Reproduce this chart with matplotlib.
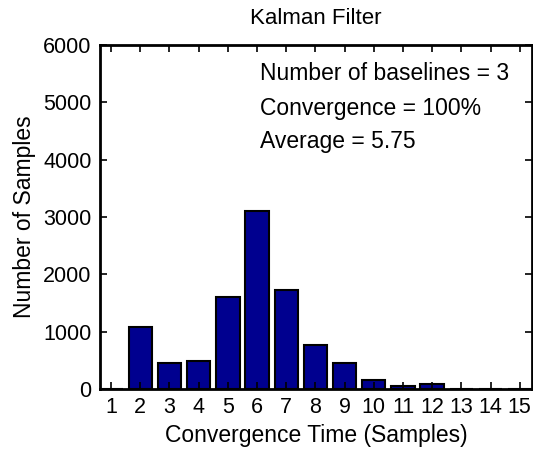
import matplotlib
matplotlib.use("Agg")
import matplotlib.pyplot as plt

plt.rcParams['font.family'] = ['Liberation Sans', 'DejaVu Sans']

conv_time = [1, 2, 3, 4, 5, 6, 7, 8, 9, 10, 11, 12, 13, 14, 15]
num_samples = [0, 1087, 450, 488, 1610, 3105, 1735, 768, 450, 162, 47, 87, 0, 0, 0]
y_ticks = [0, 1000, 2000, 3000, 4000, 5000, 6000]
title = "Kalman Filter"
annotations = ["Number of baselines = 3", "Convergence = 100%", "Average = 5.75"]

fig = plt.figure(figsize=(5.33, 4.53), dpi=100)
ax = fig.add_axes([0.1876, 0.1413, 0.8105, 0.7594])

ax.bar(conv_time, num_samples, width=0.8, color='#00008F', edgecolor='black', linewidth=1.5)

ax.set_xlim(0.62, 15.42)
ax.set_ylim(0, 6000)
ax.set_xticks(conv_time)
ax.set_yticks(y_ticks)
ax.tick_params(direction='in', length=5, width=1.2, top=True, right=True,
               labelsize=15.5, pad=6)
for s in ax.spines.values():
    s.set_linewidth(2)

ax.set_title(title, fontsize=16, pad=15)
ax.set_xlabel("Convergence Time (Samples)", fontsize=16.5, labelpad=4)
ax.set_ylabel("Number of Samples", fontsize=16.5, labelpad=5)

ys = [0.95, 0.85, 0.753]
for t, y in zip(annotations, ys):
    ax.text(0.37, y, t, transform=ax.transAxes, fontsize=16.5, va='top', ha='left')

fig.savefig("out.png", dpi=100)
